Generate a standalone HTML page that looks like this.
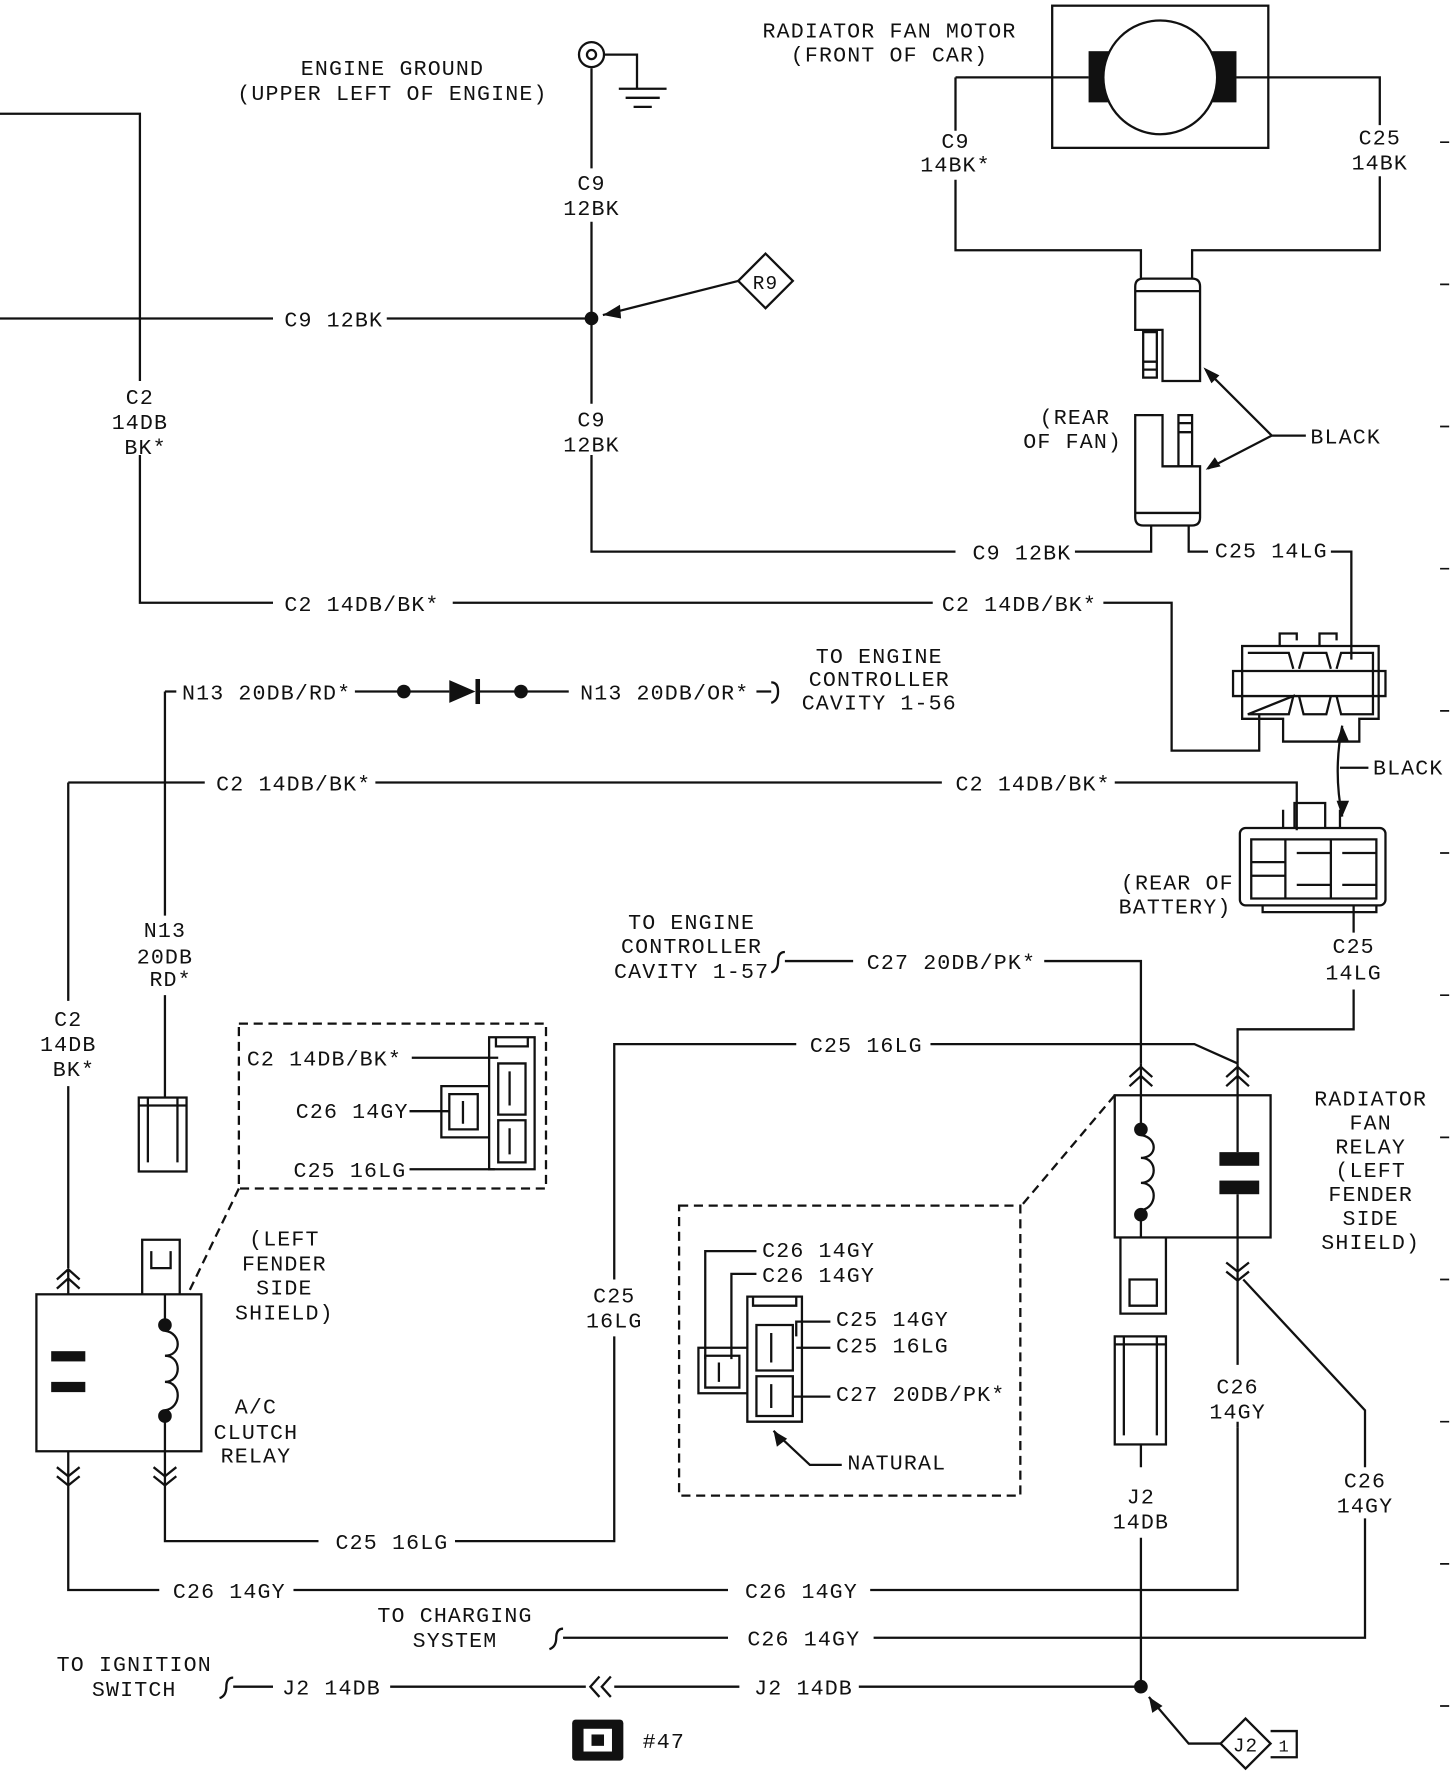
<!DOCTYPE html>
<html><head><meta charset="utf-8"><style>
html,body{margin:0;padding:0;background:#fff}
svg{display:block}
text{font-family:"Liberation Mono",monospace;font-size:19px;fill:#111;letter-spacing:1px}
.m{text-anchor:middle}
</style></head><body>
<svg width="1456" height="1772" viewBox="0 0 1280 1558" preserveAspectRatio="none" xmlns="http://www.w3.org/2000/svg">
<g fill="none" stroke="#111" stroke-width="2">
<!-- C2 top loop -->
<path d="M0,100 H123 V335 M123,400 V530 H240 M398,530 H820 M970,530 H1030 V660 H1107 V628"/>
<!-- C9 -->
<path d="M0,280 H240 M340,280 H520"/>
<path d="M520,60 V148 M520,195 V355 M520,400 V485 H840 M945,485 H1012 V462"/>
<!-- ground -->
<circle cx="520" cy="48" r="11"/><circle cx="520" cy="48" r="4"/>
<path d="M531,48 H560 V78 M544,78 H586 M550,86 H580 M557,94 H573"/>
<!-- R9 -->
<path d="M673,223 L697,247 L673,271 L649,247 Z"/>
<path d="M649,247 L530,277"/>
<!-- motor -->
<rect x="925" y="5" width="190" height="125"/>
<path d="M840,68 H957 M1087,68 H1213 V110 M1213,155 V220 H1048 V245 M840,68 V115 M840,158 V220 H1003 V245"/>
<!-- top fan connectors -->
<path d="M998,252 Q998,245 1005,245 H1048 Q1055,245 1055,252 V335 H1022 V290 H998 Z M998,256 H1055"/>
<rect x="1005" y="292" width="12" height="40"/><path d="M1005,318 H1017 M1005,325 H1017"/>
<path d="M998,365 H1022 V410 H1055 V455 Q1055,462 1048,462 H1005 Q998,462 998,455 Z M998,451 H1055"/>
<rect x="1036" y="365" width="12" height="45"/><path d="M1036,372 H1048 M1036,380 H1048"/>
<path d="M1118,383 L1060,325 M1118,383 L1062,412 M1118,383 H1148"/>
<path d="M1045,462 V485 H1062 M1170,485 H1188 V580"/>
<!-- middle connector -->
<path d="M1092,568 H1212 V632 H1195 V652 H1128 V632 H1092 Z"/>
<path d="M1084,590 H1218 V612 H1084 Z"/>
<path d="M1125,568 V557 H1140 V563 M1160,568 V557 H1175 V563"/>
<path d="M1097,574 H1133 L1137,588 M1142,588 L1146,574 H1166 L1170,588 M1175,588 L1179,574 H1207 V628 H1179 L1175,612 M1170,612 L1166,628 H1146 L1142,612 M1137,612 L1133,628 H1097 Z"/>
<path d="M1180,638 Q1172,678 1180,718 M1178,675 H1203"/>
<!-- C2 second row -->
<path d="M60,688 H180 M330,688 H828 M980,688 H1140 V730"/>
<path d="M60,688 V880 M60,955 V1115"/>
<!-- battery connector -->
<rect x="1090" y="728" width="128" height="68" rx="5"/>
<path d="M1110,796 V802 H1210 V796 M1138,728 V706 H1165 V728 M1128,728 V712 M1178,728 V712"/>
<path d="M1100,738 H1210 V790 H1100 Z M1100,758 H1130 M1100,770 H1130 M1140,750 H1170 V778 H1140 M1180,750 H1210 M1180,778 H1210 M1130,738 V790 M1170,738 V790"/>
<path d="M1190,796 V820 M1190,870 V905 H1088 V935"/>
<!-- N13 -->
<path d="M145,608 H155 M312,608 H395 M420,608 H500 M665,608 H678"/>
<path d="M678,600 Q684,600 684,608 Q684,616 678,618"/>
<path d="M145,608 V805 M145,875 V965"/>
<rect x="122" y="965" width="42" height="65"/><path d="M130,965 V1022 M156,965 V1022 M122,972 H164"/>
<!-- A/C relay -->
<rect x="32" y="1138" width="145" height="138"/>
<path d="M125,1138 V1090 H158 V1138 M133,1100 V1115 H150 V1100"/>
<path d="M50,1125 L60,1116 L70,1125 M50,1133 L60,1124 L70,1133 M60,1116 V1138"/>
<path d="M50,1290 L60,1298 L70,1290 M50,1298 L60,1306 L70,1298 M60,1276 V1398 H140 M258,1398 H640 M765,1398 H1088 V1255"/>
<path d="M135,1290 L145,1298 L155,1290 M135,1298 L145,1306 L155,1298"/>
<path d="M145,1138 V1165 M145,1245 V1355 H280 M400,1355 H540 V1175 M540,1125 V918 H700 M818,918 H1050 L1088,935"/>
<path d="M145,1170 C160,1172 160,1192 145,1192 C160,1192 160,1215 145,1215 C160,1215 160,1238 145,1240"/>
<!-- dashed box 1 -->
<rect x="210" y="900" width="270" height="145" stroke-dasharray="8,5"/>
<path d="M210,1045 L165,1138" stroke-dasharray="8,5"/>
<path d="M430,912 H470 V1028 H430 Z M436,912 V920 H464 V912 M388,955 H430 V1000 H388 Z"/>
<path d="M438,935 H462 V980 H438 Z M438,985 H462 V1022 H438 Z M395,962 H420 V993 H395 Z M448,942 V972 M448,992 V1015 M407,968 V988"/>
<path d="M362,930 H438 M360,977 H395 M360,1028 H435"/>
<!-- right relay -->
<rect x="980" y="963" width="137" height="125"/>
<path d="M993,947 L1003,938 L1013,947 M993,955 L1003,946 L1013,955 M1078,947 L1088,938 L1098,947 M1078,955 L1088,946 L1098,955"/>
<path d="M1078,1110 L1088,1118 L1098,1110 M1078,1118 L1088,1126 L1098,1118"/>
<path d="M1003,935 V993 M1003,1068 V1088 M1088,935 V1013 M1088,1050 V1200 M1088,1250 V1255"/>
<path d="M1003,998 C1018,1000 1018,1018 1003,1018 C1018,1018 1018,1040 1003,1040 C1018,1040 1018,1062 1003,1064"/>
<path d="M985,1088 V1155 H1025 V1088 M993,1125 H1017 V1148 H993 Z"/>
<path d="M1093,1125 L1200,1240 V1290 M1200,1335 V1440 H768 M640,1440 H495"/>
<path d="M495,1432 Q489,1432 489,1440 Q489,1448 483,1450"/>
<path d="M918,845 H1003 V935 M690,845 H750"/>
<path d="M690,837 Q684,837 684,845 Q684,853 678,855"/>
<rect x="980" y="1175" width="45" height="95"/><path d="M988,1175 V1262 M1017,1175 V1262 M980,1182 H1025"/>
<path d="M1003,1270 V1290 M1003,1352 V1483"/>
<path d="M980,963 L898,1060" stroke-dasharray="8,5"/>
<!-- dashed box 2 -->
<rect x="597" y="1060" width="300" height="255" stroke-dasharray="8,5"/>
<path d="M657,1140 H705 V1250 H657 Z M662,1140 V1148 H700 V1140 M614,1185 H657 V1225 H614 Z"/>
<path d="M665,1165 H697 V1205 H665 Z M665,1210 H697 V1245 H665 Z M620,1192 H650 V1220 H620 Z M678,1172 V1198 M678,1217 V1238 M632,1198 V1215"/>
<path d="M665,1100 H620 V1195 M665,1120 H643 V1195 M730,1162 H700 V1175 M730,1185 H700 M730,1228 H697 M740,1288 H712 L680,1258"/>
<!-- J2 bottom -->
<path d="M205,1483 H240 M343,1483 H515 M540,1483 H650 M755,1483 H1003"/>
<path d="M205,1475 Q199,1475 199,1483 Q199,1491 193,1493"/>
<path d="M527,1474 L519,1483 L527,1492 M537,1474 L529,1483 L537,1492"/>
<path d="M1095,1511 L1117,1533 L1095,1555 L1073,1533 Z M1117,1522 H1140 V1545 H1117"/>
<path d="M1073,1533 H1045 L1010,1492"/>
<!-- margin ticks -->
<path d="M1266,125 H1274 M1266,250 H1274 M1266,375 H1274 M1266,500 H1274 M1266,625 H1274 M1266,750 H1274 M1266,875 H1274 M1266,1000 H1274 M1266,1125 H1274 M1266,1250 H1274 M1266,1375 H1274 M1266,1500 H1274" stroke-width="1.5"/>
</g>
<g fill="#111" stroke="none">
<rect x="957" y="45" width="25" height="45"/><rect x="1062" y="45" width="25" height="45"/>
<circle cx="520" cy="280" r="6"/><circle cx="355" cy="608" r="6"/><circle cx="458" cy="608" r="6"/>
<path d="M395,598 L418,608 L395,618 Z"/><rect x="418" y="597" width="4" height="22"/>
<path d="M530,277 L545,268 L546,280 Z"/>
<path d="M1058,323 L1072,330 L1065,337 Z M1060,413 L1068,402 L1073,410 Z"/>
<path d="M1180,638 L1175,652 L1186,652 Z M1180,718 L1175,704 L1186,704 Z"/>
<circle cx="145" cy="1165" r="6"/><circle cx="145" cy="1245" r="6"/>
<rect x="45" y="1188" width="30" height="9"/><rect x="45" y="1215" width="30" height="9"/>
<circle cx="1003" cy="993" r="6"/><circle cx="1003" cy="1068" r="6"/>
<rect x="1072" y="1013" width="35" height="12"/><rect x="1072" y="1038" width="35" height="12"/>
<circle cx="1003" cy="1483" r="6"/>
<path d="M1010,1492 L1013,1506 L1022,1500 Z"/>
<path d="M680,1258 L683,1272 L692,1265 Z"/>
<rect x="503" y="1512" width="45" height="36" rx="3"/>
</g>
<rect x="513" y="1520" width="25" height="20" fill="#fff"/><rect x="520" y="1525" width="11" height="10" fill="#111"/>
<circle cx="1020" cy="68" r="50" fill="#fff" stroke="#111" stroke-width="2"/>

<text class="m" x="345" y="66">ENGINE GROUND</text>
<text class="m" x="345" y="88">(UPPER LEFT OF ENGINE)</text>
<text class="m" x="782" y="33">RADIATOR FAN MOTOR</text>
<text class="m" x="782" y="54">(FRONT OF CAR)</text>
<text class="m" x="520" y="167">C9</text><text class="m" x="520" y="189">12BK</text>
<text class="m" x="520" y="375">C9</text><text class="m" x="520" y="397">12BK</text>
<text x="250" y="287">C9 12BK</text>
<text class="m" x="673" y="254" style="font-size:17px">R9</text>
<text class="m" x="123" y="355">C2</text><text class="m" x="123" y="377">14DB</text><text class="m" x="128" y="399">BK*</text>
<text class="m" x="840" y="130">C9</text><text class="m" x="840" y="151">14BK*</text>
<text class="m" x="1213" y="127">C25</text><text class="m" x="1213" y="149">14BK</text>
<text class="m" x="945" y="373">(REAR</text><text class="m" x="943" y="394">OF FAN)</text>
<text x="1152" y="390">BLACK</text>
<text x="855" y="492">C9 12BK</text>
<text x="1068" y="490">C25 14LG</text>
<text x="250" y="537">C2 14DB/BK*</text>
<text x="828" y="537">C2 14DB/BK*</text>
<text x="1207" y="681">BLACK</text>
<text x="160" y="615">N13 20DB/RD*</text>
<text x="510" y="615">N13 20DB/OR*</text>
<text class="m" x="773" y="583">TO ENGINE</text><text class="m" x="773" y="603">CONTROLLER</text><text class="m" x="773" y="624">CAVITY 1-56</text>
<text x="190" y="695">C2 14DB/BK*</text>
<text x="840" y="695">C2 14DB/BK*</text>
<text class="m" x="1035" y="782">(REAR OF</text><text class="m" x="1033" y="803">BATTERY)</text>
<text class="m" x="1190" y="838">C25</text><text class="m" x="1190" y="861">14LG</text>
<text class="m" x="145" y="824">N13</text><text class="m" x="145" y="847">20DB</text><text class="m" x="150" y="867">RD*</text>
<text class="m" x="608" y="817">TO ENGINE</text><text class="m" x="608" y="838">CONTROLLER</text><text class="m" x="608" y="860">CAVITY 1-57</text>
<text x="762" y="852">C27 20DB/PK*</text>
<text x="712" y="925">C25 16LG</text>
<text class="m" x="60" y="902">C2</text><text class="m" x="60" y="924">14DB</text><text class="m" x="65" y="946">BK*</text>
<text x="217" y="937">C2 14DB/BK*</text>
<text x="260" y="983">C26 14GY</text>
<text x="258" y="1035">C25 16LG</text>
<text class="m" x="1205" y="972">RADIATOR</text><text class="m" x="1205" y="993">FAN</text><text class="m" x="1205" y="1014">RELAY</text><text class="m" x="1205" y="1035">(LEFT</text><text class="m" x="1205" y="1056">FENDER</text><text class="m" x="1205" y="1077">SIDE</text><text class="m" x="1205" y="1098">SHIELD)</text>
<text class="m" x="250" y="1095">(LEFT</text><text class="m" x="250" y="1117">FENDER</text><text class="m" x="250" y="1138">SIDE</text><text class="m" x="250" y="1160">SHIELD)</text>
<text class="m" x="225" y="1243">A/C</text><text class="m" x="225" y="1265">CLUTCH</text><text class="m" x="225" y="1286">RELAY</text>
<text class="m" x="540" y="1145">C25</text><text class="m" x="540" y="1167">16LG</text>
<text x="670" y="1105">C26 14GY</text>
<text x="670" y="1127">C26 14GY</text>
<text x="735" y="1166">C25 14GY</text>
<text x="735" y="1189">C25 16LG</text>
<text x="735" y="1232">C27 20DB/PK*</text>
<text x="745" y="1292">NATURAL</text>
<text class="m" x="1088" y="1225">C26</text><text class="m" x="1088" y="1247">14GY</text>
<text class="m" x="1200" y="1308">C26</text><text class="m" x="1200" y="1330">14GY</text>
<text class="m" x="1003" y="1322">J2</text><text class="m" x="1003" y="1344">14DB</text>
<text x="295" y="1362">C25 16LG</text>
<text x="152" y="1405">C26 14GY</text>
<text x="655" y="1405">C26 14GY</text>
<text class="m" x="400" y="1426">TO CHARGING</text><text class="m" x="400" y="1448">SYSTEM</text>
<text x="657" y="1447">C26 14GY</text>
<text class="m" x="118" y="1469">TO IGNITION</text><text class="m" x="118" y="1491">SWITCH</text>
<text x="248" y="1490">J2 14DB</text>
<text x="663" y="1490">J2 14DB</text>
<text class="m" x="1095" y="1540" style="font-size:17px">J2</text>
<text class="m" x="1129" y="1540" style="font-size:15px">1</text>
<text x="565" y="1537">#47</text>
</svg>
</body></html>
